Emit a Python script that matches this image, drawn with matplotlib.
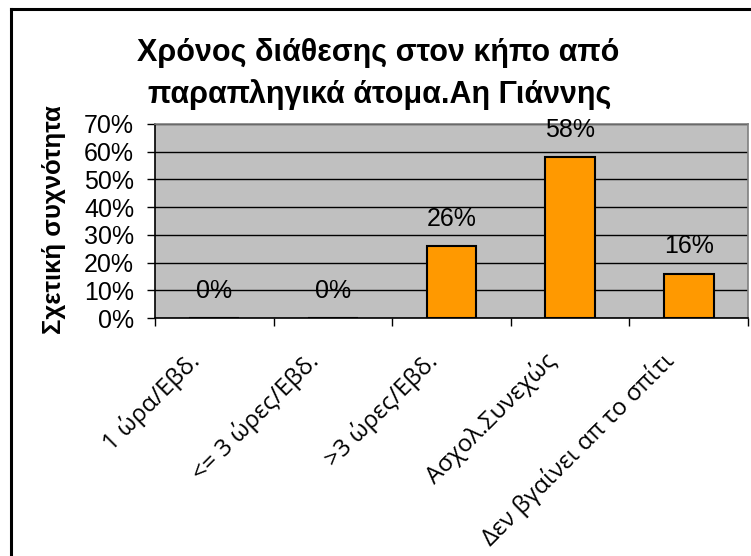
import matplotlib
matplotlib.use("Agg")
import matplotlib.pyplot as plt
from matplotlib.lines import Line2D
from matplotlib.transforms import ScaledTranslation
import numpy as np

categories = ["1 ώρα/Εβδ.", "<= 3 ώρες/Εβδ.", ">3 ώρες/Εβδ.", "Ασχολ.Συνεχώς", "Δεν βγαίνει απ το σπίτι"]
values = [0.0, 0.0, 0.26, 0.58, 0.16]
value_labels = ["0%", "0%", "26%", "58%", "16%"]
yticks = [0.0, 0.1, 0.2, 0.3, 0.4, 0.5, 0.6, 0.7]
ytick_labels = ["0%", "10%", "20%", "30%", "40%", "50%", "60%", "70%"]
title_lines = ["Χρόνος διάθεσης στον κήπο από", "παραπληγικά άτομα.Αη Γιάννης"]
ylabel = "Σχετική συχνότητα"

W, H = 751, 556
fig = plt.figure(figsize=(W / 100, H / 100), dpi=100)
fig.patch.set_facecolor("white")
renderer = fig.canvas.get_renderer()

# calibrate category label font size so the longest label spans ~262 px
probe = fig.text(0, 0, categories[-1], family="Open Sans", fontsize=10)
pw = probe.get_window_extent(renderer).width
probe.remove()
xlab_fs = 10 * 262 / pw

# outer border (top and left visible)
fig.add_artist(Line2D([10.5 / W, 10.5 / W], [0, 1 - 8.5 / H], transform=fig.transFigure, color="black", lw=2.2))
fig.add_artist(Line2D([10.5 / W, 1], [1 - 8.5 / H, 1 - 8.5 / H], transform=fig.transFigure, color="black", lw=2.2))

left, right, top, bottom = 155, 748, 124, 318
ax = fig.add_axes([left / W, 1 - bottom / H, (right - left) / W, (bottom - top) / H])
ax.set_facecolor("#C0C0C0")

x = np.arange(len(categories))
ax.bar(x, values, width=0.42, color="#FF9900", edgecolor="black", linewidth=1.5, zorder=3)

ax.set_xlim(-0.5, len(categories) - 0.5)
ax.set_ylim(0, 0.7)
ax.set_yticks(yticks)
ax.set_yticklabels(ytick_labels, family="Liberation Sans", fontsize=18)
ax.yaxis.grid(True, color="black", linewidth=1.0, zorder=1)
ax.set_axisbelow(True)
ax.tick_params(axis="y", length=6, width=1, direction="out", pad=9, color="black")

ax.set_xticks(np.arange(-0.5, len(categories), 1.0))
ax.set_xticklabels([])
ax.tick_params(axis="x", which="major", length=6, width=1, direction="out", color="black")
ax.set_xticks(x, minor=True)
ax.set_xticklabels(categories, minor=True, rotation=45, ha="right", va="baseline",
                   rotation_mode="anchor", family="Open Sans", fontsize=xlab_fs)
ax.tick_params(axis="x", which="minor", length=0, pad=32)
shift = ScaledTranslation(-13 / 100, 0, fig.dpi_scale_trans)
for lab in ax.get_xticklabels(minor=True):
    lab.set_transform(lab.get_transform() + shift)

for s in ["left", "bottom"]:
    ax.spines[s].set_color("black")
    ax.spines[s].set_linewidth(1.2)
for s in ["top", "right"]:
    ax.spines[s].set_color("#808080")
    ax.spines[s].set_linewidth(1.2)

for xi, v, lab in zip(x, values, value_labels):
    ax.annotate(lab, (xi, v), xytext=(0, 11), textcoords="offset points",
                ha="center", va="bottom", family="Liberation Sans", fontsize=18, zorder=4)

fig.text(378 / W, 1 - 61 / H, title_lines[0], ha="center", va="baseline", family="Liberation Sans",
         fontweight="bold", fontsize=22)
fig.text(380 / W, 1 - 103 / H, title_lines[1], ha="center", va="baseline", family="Liberation Sans",
         fontweight="bold", fontsize=22)
fig.text(54 / W, 1 - 220 / H, ylabel, rotation=90, ha="center", va="center",
         family="Liberation Sans", fontweight="bold", fontsize=18.5)

fig.savefig("out.png", dpi=100)
